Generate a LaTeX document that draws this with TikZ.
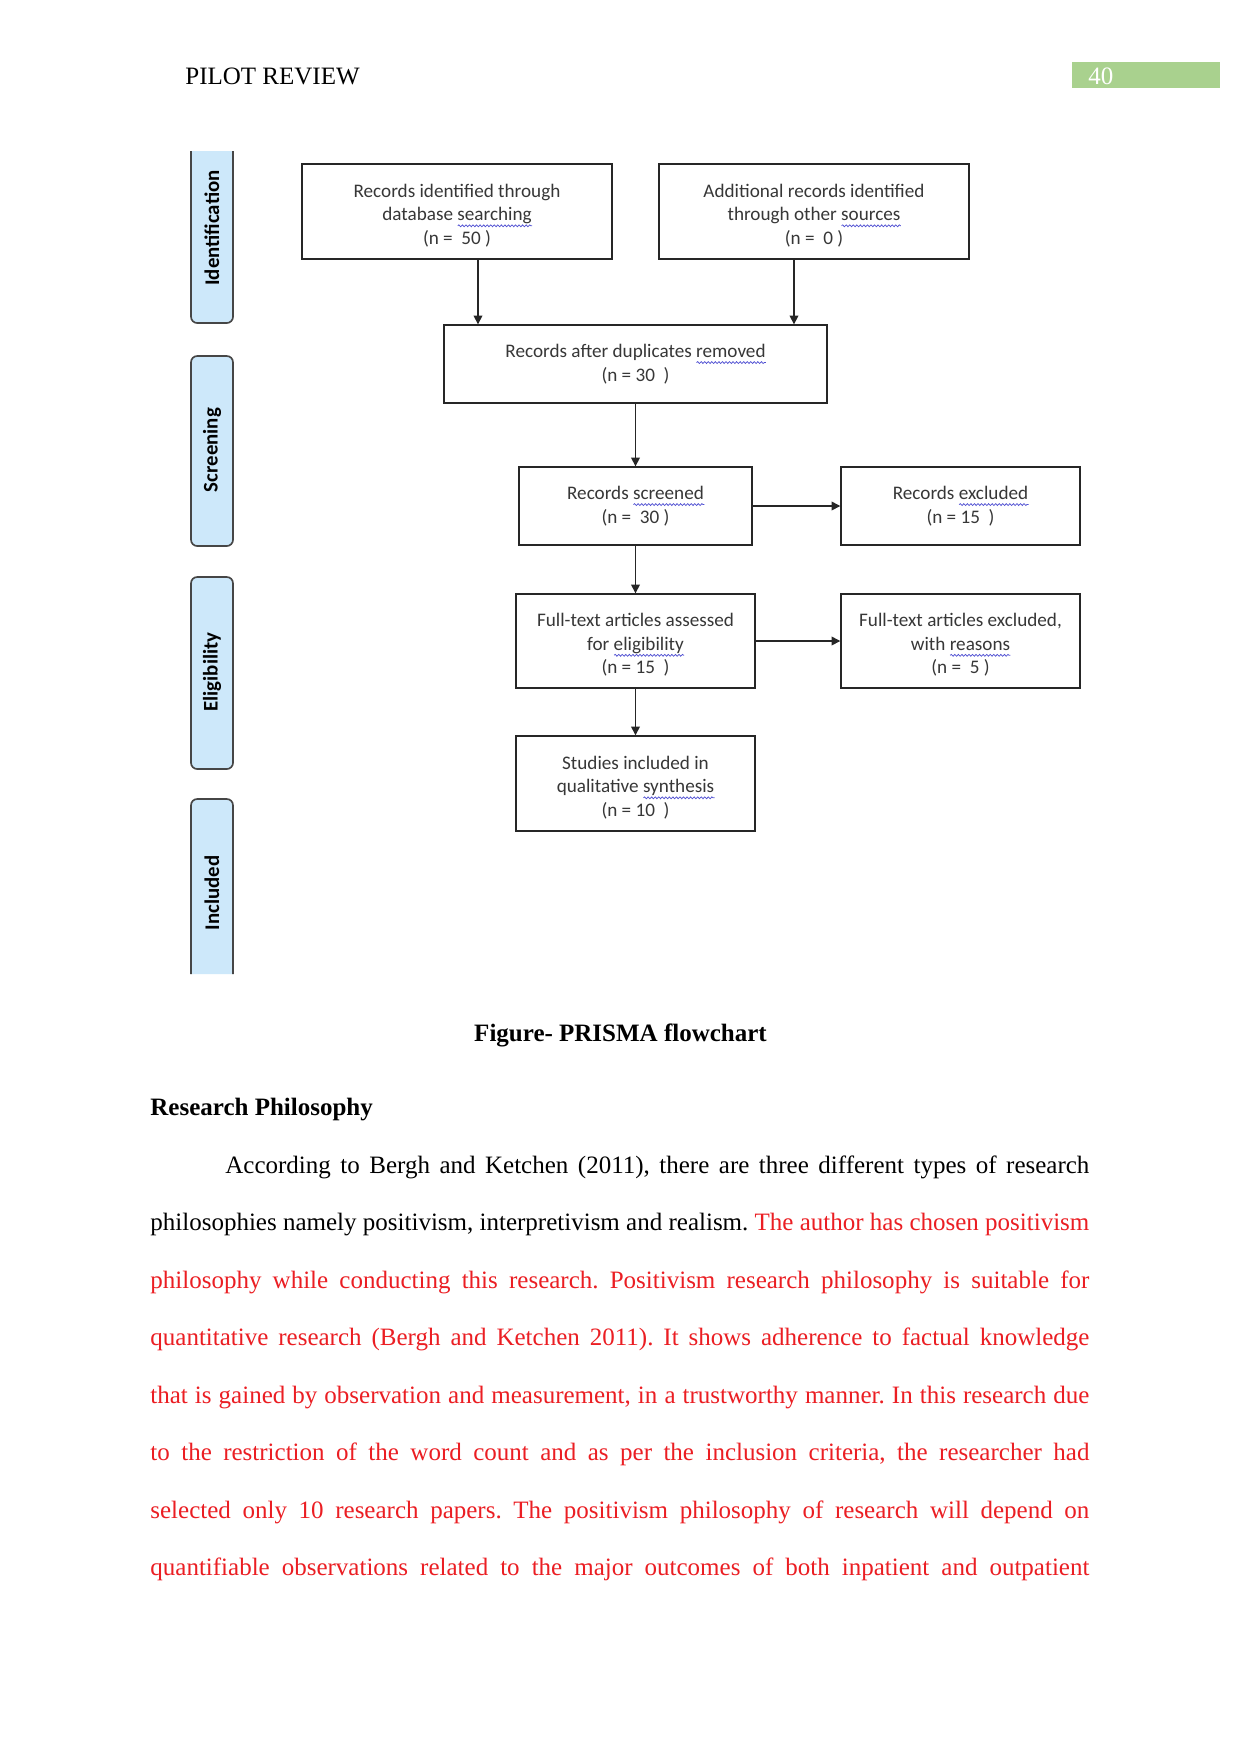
\documentclass[tikz,border=0pt]{standalone}
\usepackage{fontspec}
\setmainfont{Liberation Serif}
\newfontfamily\carlito{Carlito}
\usetikzlibrary{arrows.meta,decorations.pathmorphing}
\definecolor{tabfill}{RGB}{205,232,250}
\definecolor{tabline}{RGB}{70,70,70}
\definecolor{boxtext}{RGB}{55,55,55}
\definecolor{wavecol}{RGB}{80,80,210}
\definecolor{hdrgreen}{RGB}{169,209,142}
\definecolor{redtext}{RGB}{235,30,35}
\newdimen\wvlen
\newcommand\bw[1]{\leavevmode\setbox0=\hbox{#1}\wvlen=\wd0\relax
  \rlap{\raisebox{-2.4pt}[0pt][0pt]{\tikz[baseline=0pt]{\draw[wavecol, line width=0.35pt, decorate,
    decoration={snake, amplitude=0.45pt, segment length=1.7pt}] (0pt,0pt) -- (\the\wvlen,0pt);}}}\box0}
\newcommand\ts{\rule{0pt}{10.2pt}}
\frenchspacing
\begin{document}
\begin{tikzpicture}[x=0.48pt,y=-0.48pt,
  box/.style={draw=black!85, line width=0.7pt, align=center, inner sep=0pt, text=boxtext,
    font=\carlito\fontsize{9.2}{11.3}\selectfont},
  arr/.style={-{Triangle[width=4.2pt,length=4.2pt]}, line width=0.7pt, draw=black!85},
  tab/.style={fill=tabfill, draw=tabline, line width=0.8pt, rounded corners=3pt},
  tablabel/.style={rotate=90, inner sep=0pt, font=\carlito\bfseries\fontsize{10}{12}\selectfont}]
\useasboundingbox (0,0) rectangle (1241,1754);
\fill[white] (0,0) rectangle (1241,1754);

% header
\node[anchor=base west, inner sep=0pt, font=\fontsize{12}{14}\selectfont] (hdr) at (185,84) {PILOT REVIEW};
\fill[hdrgreen] (1072,62) rectangle (1220,88);
\node[anchor=base west, inner sep=0pt, text=white, font=\fontsize{12}{14}\selectfont] (pg) at (1088,84) {40};

% side tabs
\filldraw[tab] (191,151) -- (191,323) -- (233,323) -- (233,151);
\filldraw[tab] (191,356) rectangle (233,546);
\filldraw[tab] (191,577) rectangle (233,769);
\filldraw[tab] (191,974) -- (191,799) -- (233,799) -- (233,974);
\node[tablabel] (tid) at (212,228) {Identification};
\node[tablabel] (tsc) at (212,450) {Screening};
\node[tablabel] (tel) at (212,672) {Eligibility};
\node[tablabel] (tin) at (212,893) {Included};

% boxes
\node[box, minimum width=148.8pt, minimum height=45.6pt] (b1) at (457,211.5)
  {\ts Records identified through\\ database \bw{searching}\\ (n =\ \ 50 )};
\node[box, minimum width=148.8pt, minimum height=45.6pt] (b2) at (814,211.5)
  {\ts Additional records identified\\ through other \bw{sources}\\ (n =\ \ 0 )};
\node[box, minimum width=183.8pt, minimum height=37.4pt] (b3) at (635.5,364)
  {Records after duplicates \bw{removed}\\ (n = 30\ \ )};
\node[box, minimum width=111.8pt, minimum height=37.4pt] (b4) at (635.5,506)
  {Records \bw{screened}\\ (n =\ \ 30 )};
\node[box, minimum width=114.7pt, minimum height=37.4pt] (b5) at (960.5,506)
  {Records \bw{excluded}\\ (n = 15\ \ )};
\node[box, minimum width=114.7pt, minimum height=45.1pt] (b6) at (635.5,641)
  {\ts Full-text articles assessed\\ for \bw{eligibility}\\ (n = 15\ \ )};
\node[box, minimum width=114.7pt, minimum height=45.1pt] (b7) at (960.5,641)
  {\ts Full-text articles excluded,\\ with \bw{reasons}\\ (n =\ \ 5 )};
\node[box, minimum width=114.7pt, minimum height=45.6pt] (b8) at (635.5,783.5)
  {\ts Studies included in\\ qualitative \bw{synthesis}\\ (n = 10\ \ )};

% connectors
\coordinate (c1) at (478,0);
\coordinate (c2) at (794,0);
\draw[arr] (c1 |- b1.south) -- (c1 |- b3.north);
\draw[arr] (c2 |- b2.south) -- (c2 |- b3.north);
\draw[arr] (b3.south) -- (b4.north);
\draw[arr] (b4.east) -- (b5.west);
\draw[arr] (b4.south) -- (b6.north);
\draw[arr] (b6.east) -- (b7.west);
\draw[arr] (b6.south) -- (b8.north);

% caption and text
\node[anchor=base, inner sep=0pt, font=\bfseries\fontsize{12}{14}\selectfont] (cap) at (620.5,1041) {Figure- PRISMA flowchart};
\node[anchor=base west, inner sep=0pt, font=\bfseries\fontsize{12}{14}\selectfont] (rp) at (150,1115) {Research Philosophy};
\node[anchor=base west, inner sep=0pt] (para) at (150,1173) {\begin{minipage}[t]{450.7pt}\fontsize{12}{27.6}\selectfont\setlength{\parindent}{36pt}\setlength{\parfillskip}{0pt}\tolerance=9999 According to Bergh and Ketchen (2011), there are three different types of research\linebreak
philosophies namely positivism, interpretivism and realism. \textcolor{redtext}{The author has chosen positivism\linebreak
philosophy while conducting this research. Positivism research philosophy is suitable for\linebreak
quantitative research (Bergh and Ketchen 2011). It shows adherence to factual knowledge\linebreak
that is gained by observation and measurement, in a trustworthy manner. In this research due\linebreak
to the restriction of the word count and as per the inclusion criteria, the researcher had\linebreak
selected only 10 research papers. The positivism philosophy of research will depend on\linebreak
quantifiable observations related to the major outcomes of both inpatient and outpatient}\par\end{minipage}};
\end{tikzpicture}
\end{document}
